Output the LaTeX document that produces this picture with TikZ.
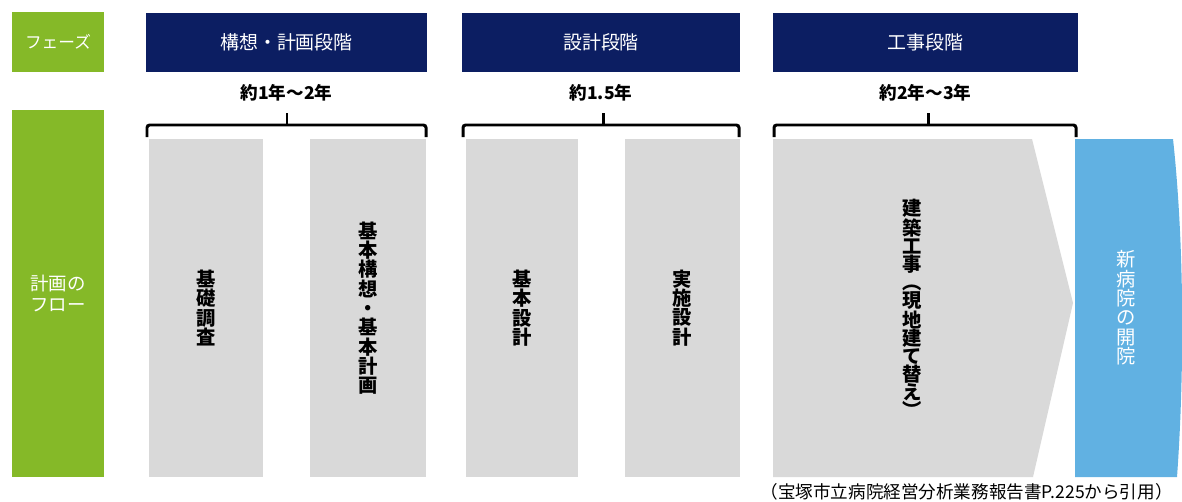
\documentclass[tikz,border=0pt]{standalone}
\usepackage{fontspec}
\setmainfont{Noto Sans CJK JP}
\definecolor{sidegreen}{RGB}{133,185,40}
\definecolor{hdrnavy}{RGB}{12,30,98}
\definecolor{taskgray}{RGB}{217,217,217}
\definecolor{openblue}{RGB}{97,177,226}
\begin{document}
\begin{tikzpicture}[x=0.02cm, y=-0.02cm,
    side/.style={fill=sidegreen, text=white, inner sep=0pt, minimum width=1.84cm, align=left, font=\fontsize{9.5}{12}\selectfont},
    hdr/.style={fill=hdrnavy, text=white, inner sep=0pt, minimum height=1.18cm, font=\fontsize{10.8}{12}\selectfont},
    span/.style={inner sep=0pt, font=\bfseries\fontsize{10}{12}\selectfont},
    task/.style={fill=taskgray, inner sep=0pt, minimum height=6.76cm, align=center, font=\bfseries\fontsize{11}{11}\selectfont},
    vtext/.style={inner sep=0pt, align=center, font=\fontsize{11}{11}\selectfont},
    brk/.style={line width=1.7pt, rounded corners=1.5pt}
]
\useasboundingbox (0,0) rectangle (1182,501);

\node[side, minimum height=1.2cm] (phase) at (58,42) {フェーズ};
\node[side, minimum height=7.34cm, font=\fontsize{10.5}{12}\selectfont] (flow) at (58,293.5) {計画の\\フロー};

\node[hdr, minimum width=5.62cm] (H1) at (286.5,42.5) {構想・計画段階};
\node[hdr, minimum width=5.56cm] (H2) at (601,42.5) {設計段階};
\node[hdr, minimum width=6.1cm] (H3) at (925.5,42.5) {工事段階};

\node[span] (T1) at (286.5,93) {約1年～2年};
\node[span] (T2) at (601,93) {約1.5年};
\node[span] (T3) at (925.5,93) {約2年～3年};

\draw[brk] (147,137) -- (147,125) -- (426,125) -- (426,137);
\draw[brk] (287,125) -- (287,113);
\draw[brk] (463,137) -- (463,125) -- (739,125) -- (739,137);
\draw[brk] (603,125) -- (603,113);
\draw[brk] (774,137) -- (774,125) -- (1076,125) -- (1076,137);
\draw[brk] (928,125) -- (928,113);

\node[task, minimum width=2.28cm] (G1) at (206,308) {基\\礎\\調\\査};
\node[task, minimum width=2.32cm] (G2) at (368,308) {基\\本\\構\\想\\・\\基\\本\\計\\画};
\node[task, minimum width=2.24cm] (G3) at (522,308) {基\\本\\設\\計};
\node[task, minimum width=2.3cm] (G4) at (682.5,308) {実\\施\\設\\計};

\fill[taskgray] (773,139) -- (1032,139) -- (1073,303) -- (1033,477) -- (773,477) -- cycle;
\node[vtext, font=\bfseries\fontsize{11}{10.2}\selectfont] (build) at (912,308) {建\\築\\工\\事\\︵\\現\\地\\建\\て\\替\\え\\︶};

\fill[openblue] (1075,139) -- (1173,139) .. controls (1185,250) and (1184,380) .. (1177,477) -- (1075,477) -- cycle;
\node[vtext, text=white] (open) at (1126,308) {新\\病\\院\\の\\開\\院};

\node[anchor=east, inner sep=0pt, font=\fontsize{10}{11}\selectfont] (src) at (1173,492) {（宝塚市立病院経営分析業務報告書P.225から引用）};
\end{tikzpicture}
\end{document}
